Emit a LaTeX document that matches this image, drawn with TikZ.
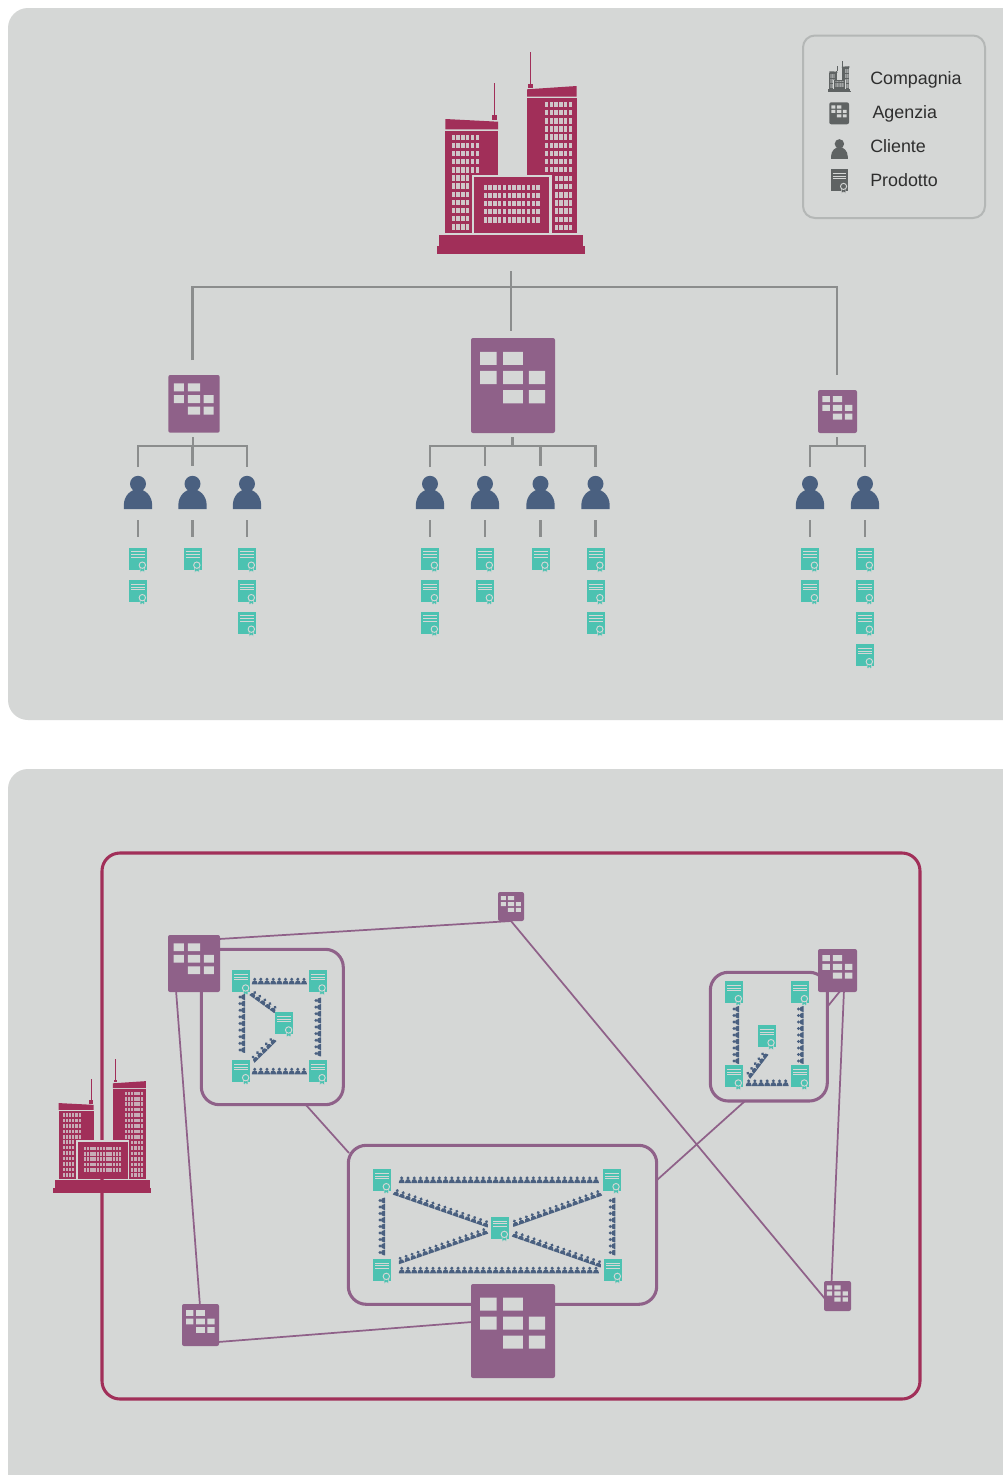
\documentclass[tikz,border=0pt]{standalone}
\usepackage{fontspec}
\setmainfont{Liberation Sans}
\usetikzlibrary{calc}
\pgfdeclarelayer{bg}
\pgfsetlayers{bg,main}
\definecolor{panel}{HTML}{D5D7D6}
\definecolor{crimson}{HTML}{A12F59}
\definecolor{agencyc}{HTML}{8F6189}
\definecolor{navy}{HTML}{4A6080}
\definecolor{teal2}{HTML}{4CC2B1}
\definecolor{linegray}{HTML}{8B8D8D}
\definecolor{legendgray}{HTML}{5F6363}
\definecolor{legendedge}{HTML}{B4B7B6}
\tikzset{
  panelbox/.style={fill=panel,draw=none,rounded corners=15pt},
  treeline/.style={draw=linegray,line width=2.1pt},
  boxline/.style={draw=agencyc,line width=2.3pt,rounded corners=13.5pt},
  linkline/.style={draw=agencyc,line width=1.3pt},
  legendtext/.style={anchor=base west,inner sep=0pt,font=\fontsize{13.4pt}{16pt}\selectfont,text=black!82},
  iconnode/.style={inner sep=0pt,outer sep=0pt,draw=none}
}
% agency: name, x0, y0, x1, y1, colour
\newcommand{\agencyicon}[6]{%
  \pgfmathsetmacro{\agw}{#4-#2}\pgfmathsetmacro{\agh}{#5-#3}%
  \node[iconnode,fill=#6,rounded corners=1.5pt,minimum width=\agw*0.75pt,minimum height=\agh*0.75pt] (#1) at ({(#2+#4)/2},{(#3+#5)/2}) {};
  \begin{scope}[shift={(#2,#3)},x=\agw*0.75pt,y=-\agh*0.75pt]
    \fill[panel] (.11,.145) rectangle (.305,.283) (.383,.145) rectangle (.617,.283)
      (.11,.347) rectangle (.305,.486) (.383,.347) rectangle (.617,.486) (.688,.347) rectangle (.883,.486)
      (.383,.549) rectangle (.617,.688) (.688,.549) rectangle (.883,.688);
  \end{scope}}
% person body, local origin at the centre
\newcommand{\personshape}[1]{%
  \fill[#1] (0,-8.7) circle[radius=8];
  \fill[#1] (-14.2,16.7) -- (-14.2,13) .. controls (-14.2,3) and (-7,-3.3) .. (0,-3.3) .. controls (7,-3.3) and (14.2,3) .. (14.2,13) -- (14.2,16.7) -- cycle;}
% person: name, cx, cy, colour
\newcommand{\personicon}[4]{%
  \node[iconnode,minimum width=21pt,minimum height=25pt] (#1) at (#2,#3) {};
  \begin{scope}[shift={(#2,#3)}]\personshape{#4}\end{scope}}
% product: name, cx, cy of body, colour, scale
\newcommand{\producticon}[5]{%
  \node[iconnode,minimum width=13.5pt*#5,minimum height=16.5pt*#5] (#1) at (#2,#3) {};
  \begin{scope}[shift={(#2,#3)},scale=#5]
    \fill[#4] (-9,-11) rectangle (9,11);
    \draw[panel,line width=0.75pt] (-7,-6.7) -- (7,-6.7) (-7,-4) -- (7,-4) (-7,-1.5) -- (7,-1.5);
    \fill[#4,draw=panel,line width=0.3pt] (2.1,9) -- (2.1,13.8) -- (4.35,12.4) -- (6.6,13.8) -- (6.6,9) -- cycle;
    \fill[#4,draw=panel,line width=0.7pt] (4.33,6.67) circle[radius=3.2];
  \end{scope}}
% company: name, x0, y0 of box, scale, colour, window opacity
\newcommand{\companyicon}[6]{%
  \node[iconnode,minimum width=110.6pt*#4,minimum height=151.7pt*#4] (#1) at ({#2+74*#4},{#3+101*#4}) {};
  \begin{scope}[shift={(#2,#3)},scale=#4]
    \fill[#5] (8.3,67) -- (61,69.7) -- (61,77.3) -- (8.3,77.3) -- cycle;
    \fill[#5] (8.3,79) rectangle (61,181.3);
    \fill[#5] (90,37.3) -- (139.7,34) -- (139.7,44.7) -- (90,44.7) -- cycle;
    \fill[#5] (90,46) rectangle (139.7,181.3);
    \fill[panel] (34.7,123) rectangle (114.7,181.3);
    \fill[#5] (37,125) rectangle (112.3,181.3);
    \fill[#5] (2.3,183) rectangle (145.7,194);
    \fill[#5] (.3,194) rectangle (147.7,202.3);
    \fill[#5] (56.8,31) rectangle (57.8,63);
    \fill[#5] (54.7,63) rectangle (59.7,68);
    \fill[#5] (92.8,.3) rectangle (93.8,32);
    \fill[#5] (91,32) rectangle (96,36);
    \foreach \r in {0,...,11}{\pgfmathtruncatemacro{\nc}{\r<5?5:3}
      \foreach \c in {0,...,\nc}{\fill[panel,fill opacity=#6] ({14.5+4.8*\c},{82.5+8.15*\r}) rectangle ++(3.4,5.4);}}
    \foreach \r in {0,...,8}{\foreach \c in {0,...,5}{\fill[panel,fill opacity=#6] ({107.8+4.8*\c},{49.8+8.15*\r}) rectangle ++(3.4,5.4);}}
    \foreach \r in {0,...,6}{\foreach \c in {0,...,3}{\fill[panel,fill opacity=#6] ({117.5+4.8*\c},{123.8+8.15*\r}) rectangle ++(3.4,5.4);}}
    \foreach \r in {0,...,4}{\foreach \c in {0,...,11}{\fill[panel,fill opacity=#6] ({46.5+4.8*\c},{132.5+8.15*\r}) rectangle ++(3.4,5.4);}}
  \end{scope}}
% chain of little persons from (ax,ay) to (bx,by), n of them
\newcommand{\chainicons}[5]{%
  \pgfmathsetmacro{\chrot}{-atan2(#4-#2,#3-#1)}%
  \pgfmathtruncatemacro{\chlast}{#5-1}%
  \foreach \i in {0,...,\chlast}{%
    \pgfmathsetmacro{\px}{#1+(#3-#1)*\i/\chlast}\pgfmathsetmacro{\py}{#2+(#4-#2)*\i/\chlast}%
    \begin{scope}[shift={(\px,\py)},rotate=\chrot,scale=.205]\personshape{navy}\end{scope}}}
\begin{document}
\begin{tikzpicture}[x=0.75pt,y=-0.75pt]
\useasboundingbox (0,0) rectangle (1003,1475);
% ---------- icons, top tree
\companyicon{topco}{437}{52}{1}{crimson}{.9}
\agencyicon{ta}{168.3}{375}{219.7}{432.7}{agencyc}
\agencyicon{tb}{471}{338}{555}{433}{agencyc}
\agencyicon{tc}{818}{390}{857}{433}{agencyc}
\foreach \n/\x in {p1/138,p2/192.5,p3/247,p4/430,p5/485,p6/540.5,p7/595.5,p8/810,p9/865}{\personicon{\n}{\x}{492.5}{navy}}
\foreach \n/\x/\y in {d1a/138/558.5,d1b/138/591,d2a/192.5/558.5,d3a/247/558.5,d3b/247/591,d3c/247/622.5,
  d4a/430/558.5,d4b/430/591,d4c/430/622.5,d5a/485/558.5,d5b/485/591,d6a/540.5/558.5,
  d7a/595.5/558.5,d7b/595.5/591,d7c/595.5/622.5,d8a/810/558.5,d8b/810/591,
  d9a/865/558.5,d9b/865/591,d9c/865/622.5,d9d/865/655}{\producticon{\n}{\x}{\y}{teal2}{1}}
% connector ends of the top tree
\coordinate (hubtop) at (511,271);
\coordinate (hub) at (511,287);
\coordinate (hubL) at (192.5,287);
\coordinate (hubR) at (837,287);
\coordinate (hubdC) at (511,331);
\coordinate (hubdL) at (192.5,360);
\coordinate (hubdR) at (837,375);
\coordinate (sa) at (193,437);\coordinate (saj) at (193,446);
\coordinate (sb) at (512.5,437);\coordinate (sbj) at (512.5,446);
\coordinate (sc) at (837,437);\coordinate (scj) at (837,446);
% ---------- legend
\companyicon{lc}{828}{61}{0.153}{legendgray}{.35}
\agencyicon{la}{829.3}{102.3}{849}{124.3}{legendgray}
\begin{scope}[shift={(839.4,149)},scale=.59]\personshape{legendgray}\end{scope}
\node[iconnode,minimum width=12.5pt,minimum height=14.5pt] (lp) at (839.4,149) {};
\producticon{ld}{839.4}{180}{legendgray}{.96}
\node[legendtext] (t1) at (870,84.4) {Compagnia};
\node[legendtext] (t2) at (872.3,118.4) {Agenzia};
\node[legendtext] (t3) at (870,152.4) {Cliente};
\node[legendtext] (t4) at (870,186.4) {Prodotto};
% ---------- bottom diagram: boxes
\companyicon{botco}{53}{1058.5}{0.665}{crimson}{.75}
\agencyicon{bA}{168}{935}{220}{992}{agencyc}
\agencyicon{bT}{498}{892}{524}{921}{agencyc}
\agencyicon{bR}{818}{949}{857}{992}{agencyc}
\agencyicon{bS}{824}{1281}{851}{1311}{agencyc}
\agencyicon{bL}{182}{1304}{219}{1346}{agencyc}
\agencyicon{bC}{471}{1284}{555}{1378}{agencyc}
\coordinate (boxAbr) at (306,1105);\coordinate (boxCtl) at (349,1153);
\coordinate (boxBbl) at (745,1101);\coordinate (boxCr) at (657,1180);
\coordinate (boxBtr) at (828,1006);
\coordinate (bAe) at (219,939);\coordinate (bAs) at (176,990);
\coordinate (bLn) at (200,1306);\coordinate (bLe) at (218,1342);
\coordinate (bCw) at (472,1322);
\coordinate (bTs) at (511,921);\coordinate (bSw) at (826,1300);
\coordinate (bRs) at (844,990);\coordinate (bRsb) at (841,990);\coordinate (bSn) at (831.5,1283);
% products and chains of the three boxes
\foreach \n/\x/\y in {e1/241.3/981.3,e2/317.7/981.3,e3/284.3/1023.3,e4/241.3/1071,e5/317.7/1071,
  f1/734/992,f2/800/992,f3/766.7/1036,f4/734/1076.3,f5/800/1076.3,
  g1/382/1180,g2/611.7/1180,g3/500/1227.7,g4/382/1269.7,g5/613/1269.7}{\producticon{\n}{\x}{\y}{teal2}{1}}
\chainicons{254.7}{981}{304}{981}{9}
\chainicons{254.7}{1071}{304}{1071}{9}
\chainicons{241.7}{1050}{241.7}{997}{9}
\chainicons{317.7}{1053.5}{317.7}{1000.5}{9}
\chainicons{253.7}{994}{274}{1008.7}{5}
\chainicons{254.3}{1058.3}{272}{1040.7}{5}
\chainicons{735.7}{1061}{735.7}{1009}{9}
\chainicons{800.3}{1061}{800.3}{1009}{9}
\chainicons{748.7}{1082.7}{785.7}{1082.7}{7}
\chainicons{749.3}{1074.3}{764}{1055}{5}
\chainicons{401.7}{1179.7}{596}{1179.7}{32}
\chainicons{401.7}{1270}{596}{1270}{32}
\chainicons{381.7}{1252.5}{381.7}{1200.5}{9}
\chainicons{612}{1252.5}{612}{1200.5}{9}
\chainicons{396.7}{1192.3}{486}{1223.3}{16}
\chainicons{515}{1222.7}{598.3}{1193.3}{15}
\chainicons{400.7}{1260}{484.3}{1231.3}{15}
\chainicons{515.7}{1234.3}{599}{1263.3}{15}
% ---------- background layer: panels, frames, connectors
\begin{pgfonlayer}{bg}
  \fill[white] (0,0) rectangle (1003,1475);
  \path[panelbox] (8,8) rectangle (1040,720);
  \path[panelbox] (8,769) rectangle (1040,1510);
  \draw[legendedge,line width=1.5pt,rounded corners=9pt] (803,35.5) rectangle (985,218);
  \draw[crimson,line width=2.3pt,rounded corners=13.5pt] (102,853) rectangle (920,1399);
  \draw[boxline] (201.3,949.3) rectangle (343.3,1104.7);
  \draw[boxline] (710.3,972.3) rectangle (827.3,1101);
  \draw[boxline] (348.3,1145.3) rectangle (656.7,1304.3);
  \draw[linkline] (bAe) -- (bTs) -- (bSw);
  \draw[linkline] (bAs) -- (bLn);
  \draw[linkline] (bLe) -- (bCw);
  \draw[linkline] (bRs) -- (bSn);
  \draw[linkline] (bRsb) -- (boxBtr);
  \draw[linkline] (boxAbr) -- (boxCtl);
  \draw[linkline] (boxBbl) -- (boxCr);
  \draw[treeline] (hubtop) -- (hubdC);
  \draw[treeline] (hubdL) -- (hubL) -- (hubR) -- (hubdR);
  \draw[treeline] (sa) -- (saj);
  \draw[treeline] (sb) -- (sbj);
  \draw[treeline] (sc) -- (scj);
  \foreach \a/\b in {138/247,430/595.5,810/865}{\draw[treeline] (\a,467) -- (\a,446) -- (\b,446) -- (\b,467);}
  \foreach \x in {192.5,485,540.5}{\draw[treeline] (\x,446) -- (\x,466);}
  \foreach \x in {138,192.5,247,430,485,540.5,595.5,810,865}{\draw[treeline] (\x,520) -- (\x,537);}
\end{pgfonlayer}
\end{tikzpicture}
\end{document}
